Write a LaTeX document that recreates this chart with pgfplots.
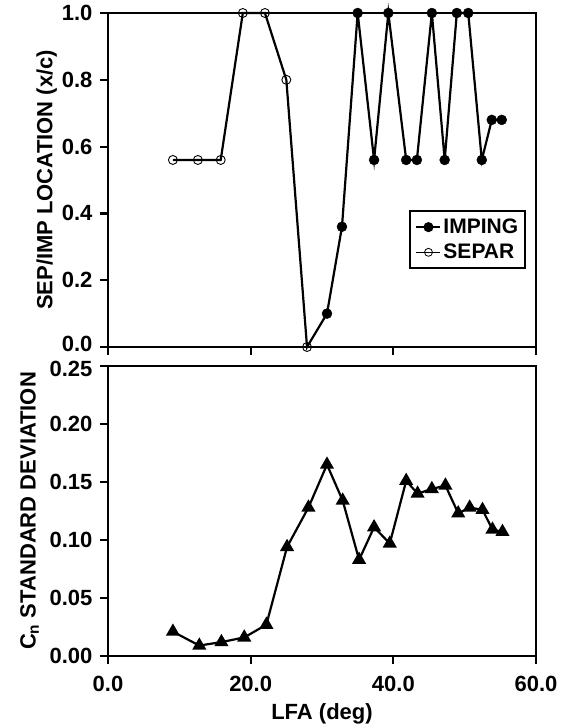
\documentclass[border=0pt]{standalone}
\usepackage{fontspec}
\setmainfont{Liberation Sans}
\usepackage{pgfplots}
\pgfplotsset{compat=1.18}

% separation / impingement location, one line through both series
\pgfplotstableread{
x y
9.1 0.56
12.6 0.56
15.8 0.56
18.9 1.0
22.0 1.0
25.0 0.80
27.9 0.0
30.7 0.10
32.8 0.36
35.0 1.0
37.3 0.56
39.3 1.0
41.8 0.56
43.3 0.56
45.4 1.0
47.2 0.56
48.9 1.0
50.5 1.0
52.4 0.56
53.8 0.68
55.2 0.68
}\loctable

\pgfplotstableread{
x y
9.1 0.56
12.6 0.56
15.8 0.56
18.9 1.0
22.0 1.0
25.0 0.80
27.9 0.0
}\separ

\pgfplotstableread{
x y
30.7 0.10
32.8 0.36
35.0 1.0
37.3 0.56
39.3 1.0
41.8 0.56
43.3 0.56
45.4 1.0
47.2 0.56
48.9 1.0
50.5 1.0
52.4 0.56
53.8 0.68
55.2 0.68
}\imping

\pgfplotstableread{
x y
9.1 0.021
12.8 0.009
15.9 0.012
19.1 0.016
22.2 0.027
25.1 0.094
28.1 0.128
30.7 0.165
32.9 0.134
35.2 0.083
37.3 0.111
39.5 0.097
41.8 0.151
43.4 0.140
45.4 0.144
47.3 0.147
49.1 0.123
50.7 0.128
52.5 0.126
53.9 0.109
55.3 0.107
}\cnstd

\pgfplotsset{
  panel/.style={
    scale only axis, width=428pt,
    xmin=0, xmax=60, xtick={0,20,40,60},
    clip=false,
    axis line style={line width=2.6pt},
    tick align=outside, xtick pos=bottom, ytick pos=left,
    major tick length=8pt,
    tick style={line width=2.2pt, black},
    tick label style={font=\fontsize{22}{26}\selectfont\bfseries, inner ysep=0pt},
    yticklabel style={xshift=-4pt},
    xticklabel style={yshift=-12pt},
    label style={font=\fontsize{22}{26}\selectfont\bfseries},
    /pgf/number format/assume math mode=true,
    /pgf/number format/fixed, /pgf/number format/fixed zerofill,
  },
}

\begin{document}
\begin{tikzpicture}
\begin{axis}[panel, name=top, at={(0,0)}, anchor=north west,
  height=334pt, ymin=0, ymax=1, ytick={0,0.2,0.4,0.6,0.8,1.0},
  yticklabels={\raisebox{3pt}[\height][\depth]{0.0},0.2,0.4,0.6,0.8,1.0},
  xticklabels={},
  ylabel={SEP/IMP LOCATION (x/c)},
  ylabel style={yshift=-2pt},
  legend style={draw=black, line width=2pt, at={(0.977,0.41)}, anchor=north east,
    font=\fontsize{21}{25}\selectfont\bfseries, cells={anchor=west},
    inner xsep=5pt, inner ysep=6pt, row sep=5pt},
  legend image code/.code={\draw[mark repeat=2, mark phase=2]
    plot coordinates {(0pt,0pt) (12pt,0pt) (24pt,0pt)};},
]
\addlegendimage{black, line width=2pt, mark=*, mark size=4pt}
\addlegendentry{IMPING}
\addlegendimage{black, line width=1.3pt, mark=o, mark size=4pt, mark options={line width=0.8pt}}
\addlegendentry{SEPAR}
\addplot[black, line width=2.2pt, forget plot] table {\loctable};
\addplot[only marks, mark=o, mark size=4.5pt, mark options={black, line width=0.9pt}, forget plot] table {\separ};
\addplot[only marks, mark=*, mark size=5pt, mark options={black, fill=black}, forget plot] table {\imping};
\end{axis}

\begin{axis}[panel, at={(0,-353pt)}, anchor=north west,
  height=290pt, ymin=0, ymax=0.25, ytick={0,0.05,0.10,0.15,0.20,0.25},
  yticklabels={0.00,0.05,0.10,0.15,0.20,\raisebox{-3pt}[\height][\depth]{0.25}},
  xticklabel style={/pgf/number format/precision=1},
  xlabel={LFA (deg)},
  xlabel style={yshift=-8pt},
  ylabel={C\textsubscript{n} STANDARD DEVIATION},
  ylabel style={yshift=4pt},
]
\addplot[black, line width=2.2pt, mark=triangle*, mark size=6pt, mark options={fill=black}] table {\cnstd};
\end{axis}

\pgfresetboundingbox
\path (top.north west) ++(-108pt,13pt) rectangle ++(569pt,-728pt);
\end{tikzpicture}
\end{document}
